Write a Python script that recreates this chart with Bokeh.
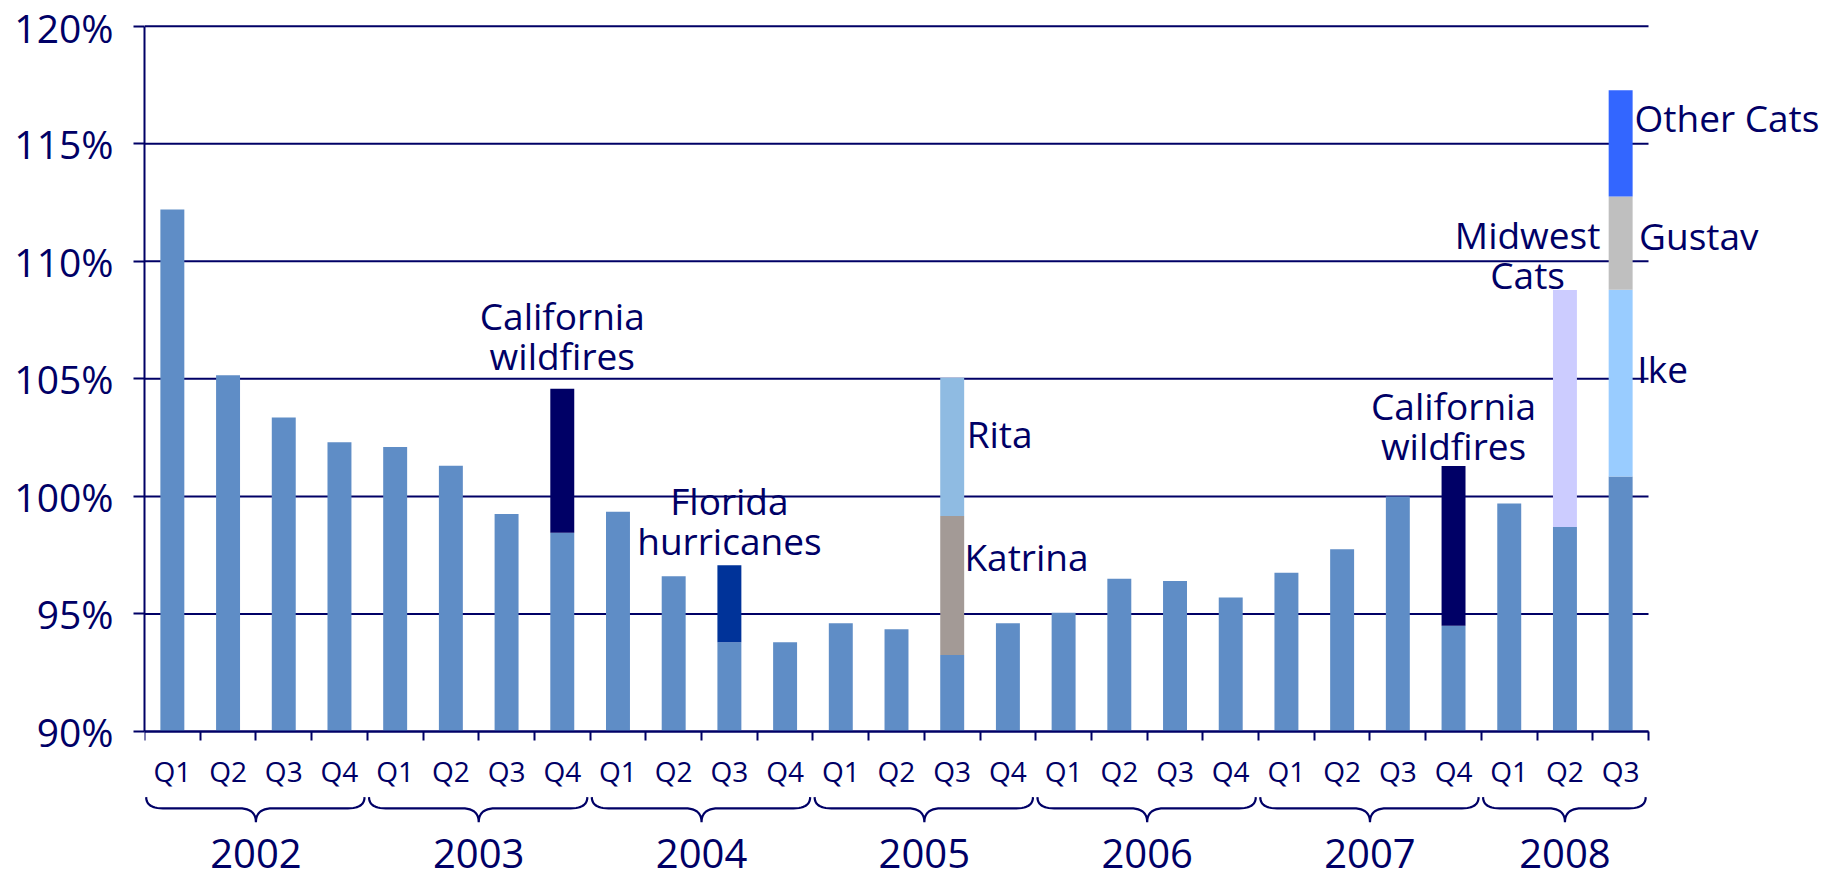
import numpy as np
from bokeh.plotting import figure
from bokeh.models import (Range1d, FixedTicker, PrintfTickFormatter, LinearAxis,
                          ColumnDataSource)
from bokeh.embed import file_html
from bokeh.resources import INLINE
from bokeh.core.properties import value

# ---------------- data ----------------
years = ["2002", "2003", "2004", "2005", "2006", "2007", "2008"]
quarters_per_year = [4, 4, 4, 4, 4, 4, 3]
quarters = ["Q1", "Q2", "Q3", "Q4"] * 6 + ["Q1", "Q2", "Q3"]

# combined ratio excluding the catastrophe losses shown on top (%)
base = [112.2, 105.15, 103.35, 102.3,
        102.1, 101.3, 99.25, 98.45,
        99.35, 96.6, 93.8, 93.8,
        94.6, 94.35, 93.25, 94.6,
        95.05, 96.5, 96.4, 95.7,
        96.75, 97.75, 100.0, 94.5,
        99.7, 98.7, 100.85]

# catastrophe add-ons (percentage points), stacked in this order
cat_period = ["2003 Q4", "2004 Q3", "2005 Q3", "2005 Q3", "2007 Q4",
              "2008 Q2", "2008 Q3", "2008 Q3", "2008 Q3"]
cat_name = ["California wildfires", "Florida hurricanes", "Katrina", "Rita",
            "California wildfires", "Midwest Cats", "Ike", "Gustav", "Other Cats"]
cat_size = [6.13, 3.27, 5.92, 5.88, 6.79, 10.08, 7.94, 3.97, 4.52]
cat_color = ["#000066", "#003399", "#A39A96", "#8FBBE2", "#000066",
             "#CCCCFF", "#99CCFF", "#BFBFBF", "#3366FF"]

y_ticks = [90, 95, 100, 105, 110, 115, 120]

# event annotations
label_text = ["California\nwildfires", "Florida\nhurricanes", "Rita", "Katrina",
              "California\nwildfires", "Midwest\nCats", "Ike", "Gustav", "Other Cats"]
label_period = ["2003 Q4", "2004 Q3", "2005 Q3", "2005 Q3", "2007 Q4",
                "2008 Q2", "2008 Q3", "2008 Q3", "2008 Q3"]
label_dx = [0.0, 0.0, 0.26, 0.22, 0.0, -0.67, 0.30, 0.33, 0.25]
label_y = [106.84, 98.97, 102.68, 97.46, 103.02, 110.29, 105.42, 111.10, 116.13]
label_align = ["center", "center", "left", "left", "center", "center",
               "left", "left", "left"]

# ---------------- styles ----------------
NAVY = "#000066"
BASE_COLOR = "#5F8DC6"
FONT = "Open Sans"
BAR_W = 0.43
LINE_GAP = 40.5  # px between lines of a two-line label

bar_year = list(np.repeat(years, quarters_per_year))
periods = [f"{y} {q}" for y, q in zip(bar_year, quarters)]
n = len(base)
xc = np.arange(n) + 0.5

X_END = n + 3.357
Y_TOP = 120.072
Y_BOT = 83.661

p = figure(width=1839, height=880,
           x_range=Range1d(0, X_END), y_range=Range1d(Y_BOT, Y_TOP),
           output_backend="svg", toolbar_location=None,
           min_border_left=144, min_border_right=4,
           min_border_top=24, min_border_bottom=0,
           outline_line_color=None, background_fill_color="white",
           border_fill_color="white")

# horizontal grid lines spanning the category axis only
p.segment(x0=[0] * len(y_ticks), x1=[n] * len(y_ticks), y0=y_ticks, y1=y_ticks,
          line_color=NAVY, line_width=2, level="underlay")

# base bars
p.vbar(x=xc, bottom=90, top=base, width=BAR_W, fill_color=BASE_COLOR, line_color=None)

# stacked catastrophe segments
running = {}
cb, ct, cx = [], [], []
for per, s in zip(cat_period, cat_size):
    i = periods.index(per)
    b = running.get(i, base[i])
    cb.append(b)
    ct.append(b + s)
    cx.append(xc[i])
    running[i] = b + s
cat_src = ColumnDataSource(dict(x=cx, bottom=cb, top=ct, color=cat_color, name=cat_name))
p.vbar(x="x", bottom="bottom", top="top", width=BAR_W, fill_color="color",
       line_color=None, source=cat_src)

# ---------------- axes ----------------
p.xgrid.visible = False
p.ygrid.visible = False
yax = p.yaxis[0]
yax.ticker = FixedTicker(ticks=y_ticks, minor_ticks=[])
yax.formatter = PrintfTickFormatter(format="%d%%")
yax.bounds = (90, 120)
yax.axis_line_color = NAVY
yax.axis_line_width = 2
yax.major_tick_line_color = NAVY
yax.major_tick_line_width = 2
yax.major_tick_out = 11
yax.major_tick_in = 0
yax.minor_tick_line_color = None
yax.major_label_text_font = FONT
yax.major_label_text_font_size = "39px"
yax.major_label_text_color = NAVY
yax.major_label_standoff = 20

xax = p.xaxis[0]
xax.fixed_location = 90
xax.bounds = (0, n)
xax.ticker = FixedTicker(ticks=list(range(n + 1)), minor_ticks=[])
xax.major_label_overrides = {i: "" for i in range(n + 1)}
xax.axis_line_color = NAVY
xax.axis_line_width = 2
xax.major_tick_line_color = NAVY
xax.major_tick_line_width = 2
xax.major_tick_out = 9
xax.major_tick_in = 0
xax.minor_tick_line_color = None

qax = LinearAxis(fixed_location=90,
                 ticker=FixedTicker(ticks=list(xc), minor_ticks=[]),
                 major_label_overrides={float(x): q for x, q in zip(xc, quarters)},
                 axis_line_color=None, major_tick_line_color=None,
                 minor_tick_line_color=None, major_tick_out=0, major_tick_in=0,
                 major_label_standoff=21, major_label_text_font=FONT,
                 major_label_text_font_size="28px", major_label_text_color=NAVY)
p.add_layout(qax, "below")

# ---------------- braces and years ----------------
bounds_ = np.concatenate([[0], np.cumsum(quarters_per_year)])
yb_top, yb_mid, yb_bot = 87.21, 86.73, 86.14
r = 0.3
t = np.linspace(0, 1, 12)


def quad(p0, c, p1):
    return ((1 - t) ** 2 * p0[0] + 2 * (1 - t) * t * c[0] + t ** 2 * p1[0],
            (1 - t) ** 2 * p0[1] + 2 * (1 - t) * t * c[1] + t ** 2 * p1[1])


bxs, bys, ycs = [], [], []
for k in range(len(years)):
    x0 = bounds_[k] + 0.03
    x1 = bounds_[k + 1] - 0.05
    xm = (bounds_[k] + bounds_[k + 1]) / 2
    ycs.append(xm)
    segs = [quad((x0, yb_top), (x0, yb_mid), (x0 + r, yb_mid)),
            (np.array([x0 + r, xm - r]), np.array([yb_mid, yb_mid])),
            quad((xm - r, yb_mid), (xm, yb_mid), (xm, yb_bot)),
            quad((xm, yb_bot), (xm, yb_mid), (xm + r, yb_mid)),
            (np.array([xm + r, x1 - r]), np.array([yb_mid, yb_mid])),
            quad((x1 - r, yb_mid), (x1, yb_mid), (x1, yb_top))]
    bxs.append(np.concatenate([s[0] for s in segs]).tolist())
    bys.append(np.concatenate([s[1] for s in segs]).tolist())

p.multi_line(xs=bxs, ys=bys, line_color=NAVY, line_width=2.2)

p.text(x=ycs, y=[84.81] * len(years), text=years, text_font=value(FONT),
       text_font_size="40px", text_color=NAVY, text_align="center",
       text_baseline="middle")

# ---------------- event labels ----------------
rows = {"center": dict(x=[], y=[], text=[], yo=[]), "left": dict(x=[], y=[], text=[], yo=[])}
for txt, per, dx, ly, al in zip(label_text, label_period, label_dx, label_y, label_align):
    lines = txt.split("\n")
    k = len(lines)
    for j, line in enumerate(lines):
        rows[al]["x"].append(xc[periods.index(per)] + dx)
        rows[al]["y"].append(ly)
        rows[al]["text"].append(line)
        rows[al]["yo"].append((j - (k - 1) / 2) * LINE_GAP)
for al, d in rows.items():
    p.text(x="x", y="y", text="text", y_offset="yo", source=ColumnDataSource(d),
           text_font=value(FONT), text_font_size="37px", text_color=NAVY,
           text_align=al, text_baseline="middle")

open("out.html", "w").write(file_html(p, INLINE))
